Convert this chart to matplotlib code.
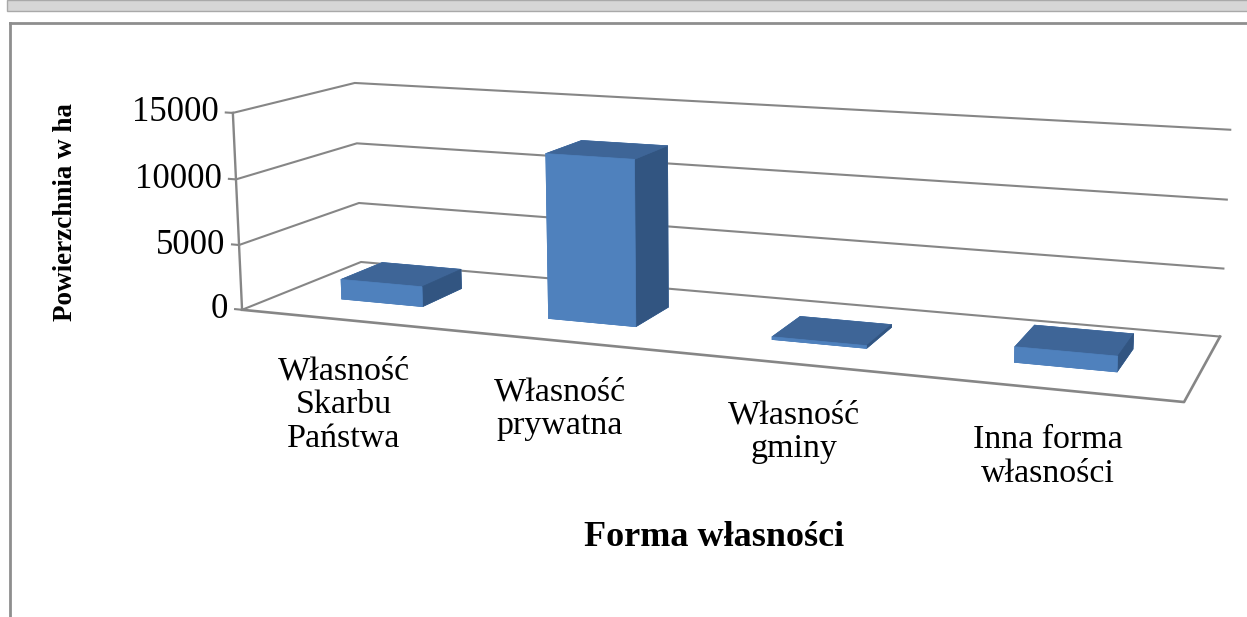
import numpy as np
import matplotlib
matplotlib.use('Agg')
import matplotlib.pyplot as plt
from matplotlib.lines import Line2D
from matplotlib.patches import Rectangle

# chart data
categories = ['Własność\nSkarbu\nPaństwa', 'Własność\nprywatna', 'Własność\ngminy', 'Inna forma\nwłasności']
values = [1550, 12400, 200, 1100]
z_ticks = [0, 5000, 10000, 15000]
y_label = 'Powierzchnia w ha'
x_label = 'Forma własności'

W, H = 1247, 617
plt.rcParams['font.family'] = ['Liberation Serif', 'DejaVu Serif']

fig = plt.figure(figsize=(W / 100, H / 100), dpi=100)
fig.patch.set_facecolor('white')

# window-like frame around the chart
fig.add_artist(Rectangle((7 / W, (H - 11) / H), 1, 11 / H, transform=fig.transFigure,
                         facecolor='#d6d6d6', edgecolor='#a9a9a9', lw=1))
fig.add_artist(Line2D([9.5 / W, 9.5 / W], [0, (H - 23) / H], color='#8e8e8e', lw=2))
fig.add_artist(Line2D([9.5 / W, 1], [(H - 23) / H, (H - 23) / H], color='#8e8e8e', lw=2))

n = len(categories)
x_lo, x_hi = -0.5, n - 0.5
y_lo, y_hi = 0.0, 1.0
z_lo, z_hi = z_ticks[0], z_ticks[-1]

zoom = 1.6
ax = fig.add_axes([0.33, 0.14, 0.48, 0.97], projection='3d', computed_zorder=False)
ax.view_init(elev=11.5, azim=-69.5)
ax.set_proj_type('persp', focal_length=0.393 * zoom)
ax.set_box_aspect((963.6, 243, 206), zoom=zoom)
ax.set_xlim(x_lo, x_hi)
ax.set_ylim(y_lo, y_hi)
ax.set_zlim(z_lo, z_hi)
ax.set_axis_off()


def to_px(xs, ys, zs):
    xs, ys, zs = np.broadcast_arrays(np.atleast_1d(xs), np.atleast_1d(ys), np.atleast_1d(zs))
    pts = np.vstack([xs.astype(float), ys.astype(float), zs.astype(float), np.ones(xs.size)])
    v = ax.get_proj() @ pts
    p2 = (v[:2] / v[3]).T
    return ax.transData.transform(p2)


# fit the axes box so the 3d frame lands where the Excel frame is
corners = np.array([[x_lo, y_lo, z_lo], [x_hi, y_lo, z_lo], [x_lo, y_hi, z_lo], [x_hi, y_hi, z_lo],
                    [x_lo, y_hi, z_hi], [x_hi, y_hi, z_hi], [x_lo, y_lo, z_hi]])
target = np.array([[245, 310], [1183, 400], [362, 263], [1218, 337],
                   [350, 83], [1234, 130], [233, 113]], float)
target[:, 1] = H - target[:, 1]
for _ in range(2):
    ax.apply_aspect()
    bb = ax.get_position().transformed(fig.transFigure)
    S0 = bb.width
    L0 = np.array([bb.x0, bb.y0])
    q = (to_px(*corners.T) - L0) / S0
    A, b = [], []
    for (qx, qy), (tx, ty) in zip(q, target):
        A.append([1, 0, qx]); b.append(tx)
        A.append([0, 1, qy]); b.append(ty)
    Lx, Ly, S = np.linalg.lstsq(np.array(A), np.array(b), rcond=None)[0]
    ax.set_position([Lx / W, Ly / H, S / W, S / H])
ax.apply_aspect()

# walls: gridlines on side and back wall, floor outline, value axis
grid_c = '#868686'
for z in z_ticks:
    ax.plot([x_lo, x_lo, x_hi], [y_lo, y_hi, y_hi], [z, z, z], color=grid_c, lw=1.5, zorder=1, clip_on=False)
    ax.plot([x_lo - 0.035, x_lo], [y_lo, y_lo], [z, z], color=grid_c, lw=1.5, zorder=1, clip_on=False)
ax.plot([x_lo, x_hi, x_hi], [y_lo, y_lo, y_hi], [z_lo] * 3, color=grid_c, lw=1.9, zorder=1, clip_on=False)
ax.plot([x_lo, x_lo], [y_lo, y_lo], [z_lo, z_hi], color=grid_c, lw=1.7, zorder=1, clip_on=False)

# bars
bar_w, bar_d = 0.4, 0.36
face_cols = ['#4F81BD', '#3E6597', '#4F81BD', '#4F81BD', '#4F81BD', '#325581']
fc = face_cols * n
bars = ax.bar3d(np.arange(n) - bar_w / 2, np.full(n, 0.5 - bar_d / 2), np.zeros(n),
                bar_w, bar_d, values, color=fc, edgecolor=fc, linewidth=0.5, shade=False, zorder=3)
bars.set_clip_on(False)

# value tick labels
for z in z_ticks:
    px = to_px(x_lo, y_lo, z)[0]
    fig.text((px[0] - 14) / W, px[1] / H, f'{z}', ha='right', va='center', fontsize=25)

# category labels under the floor
for i, lab in enumerate(categories):
    px = to_px(i, y_lo, z_lo)[0]
    fig.text(px[0] / W, (px[1] - 36) / H, lab, ha='center', va='top',
             multialignment='center', linespacing=1.15, fontsize=24.5)

fig.text(66 / W, (H - 212) / H, y_label, rotation=90, ha='center', va='center',
         fontsize=19.5, fontweight='bold')
fig.text(714 / W, (H - 538) / H, x_label, ha='center', va='center',
         fontsize=26, fontweight='bold')

fig.savefig('out.png', dpi=100)
